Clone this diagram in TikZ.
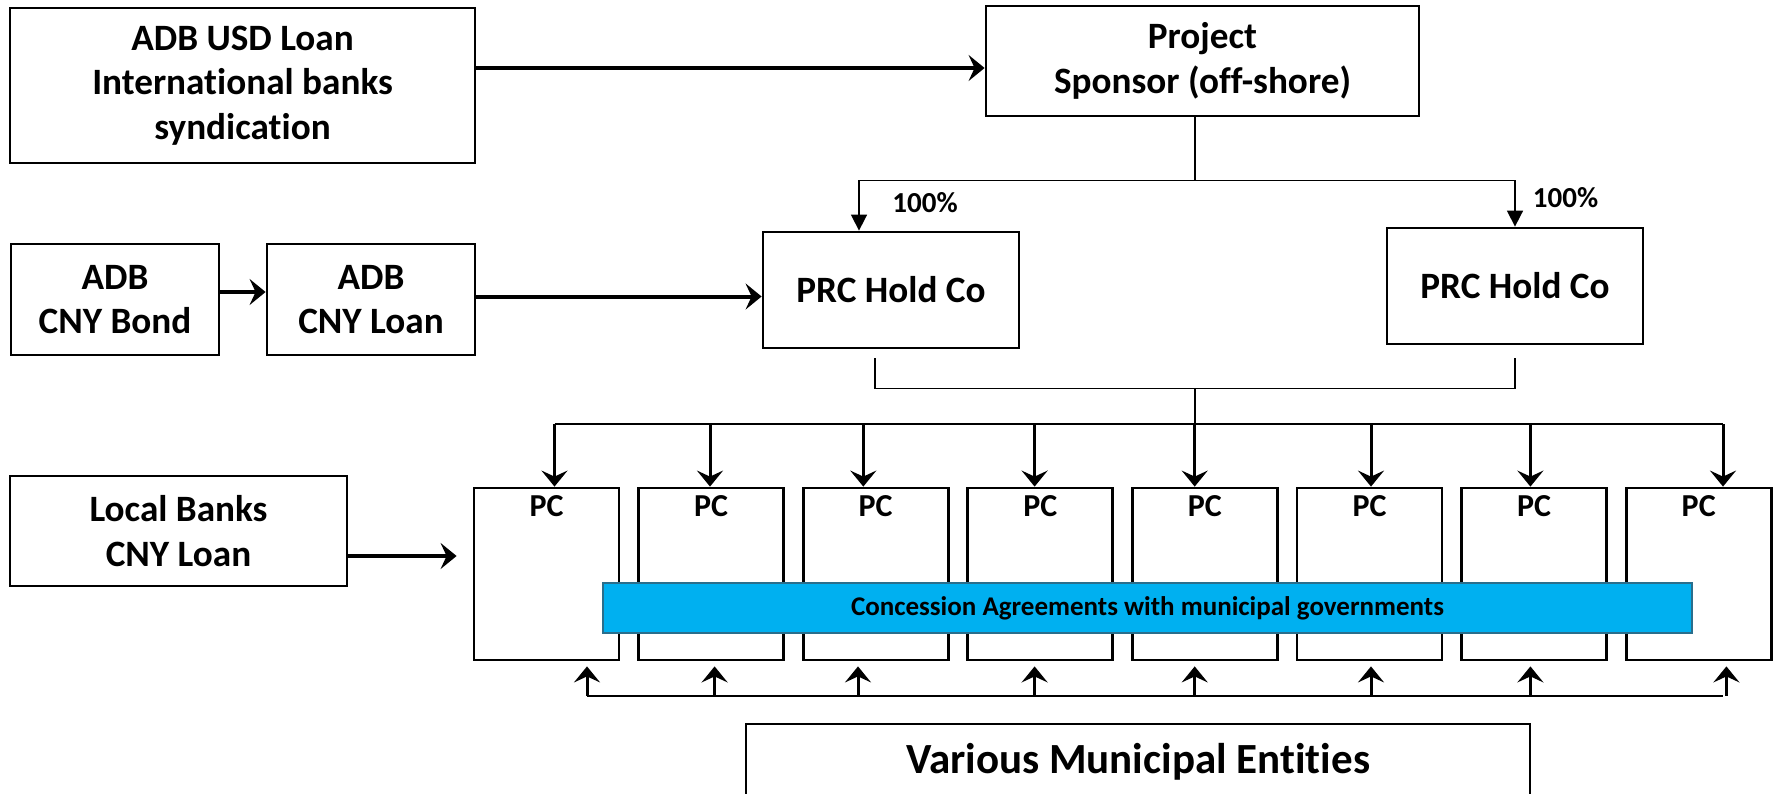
\documentclass[tikz,border=0pt]{standalone}
\usepackage{fontspec}
\setmainfont[Ligatures=NoCommon]{Carlito}
\usetikzlibrary{arrows.meta,positioning}

\definecolor{barblue}{HTML}{00B0F0}
\definecolor{baredge}{HTML}{2A6E8C}

\newcommand{\boxfont}{\fontsize{18.6}{22.3}\selectfont\bfseries}
\newcommand{\pcfont}{\fontsize{16}{18}\selectfont\bfseries}
\newcommand{\pctfont}{\fontsize{14.5}{17}\selectfont\bfseries}
\newcommand{\barfont}{\fontsize{13.5}{16}\selectfont\bfseries}
\newcommand{\munifont}{\fontsize{21.5}{26}\selectfont\bfseries}

\begin{document}
\begin{tikzpicture}[x=0.5pt,y=-0.5pt,
    main node/.style={rectangle,draw,line width=1.4pt,inner sep=0pt,align=center,font=\boxfont},
    pc node/.style={rectangle,draw,line width=1.4pt,inner sep=0pt,minimum width=72.5pt,minimum height=86pt},
    bar node/.style={rectangle,draw=baredge,line width=0.6pt,fill=barblue,inner sep=0pt,font=\barfont},
    big arrow/.style={line width=2pt,-{Stealth[length=8pt,width=13pt,inset=3pt]}},
    pc arrow/.style={line width=1.5pt,-{Stealth[length=8pt,width=13pt,inset=3pt]}},
    thin arrow/.style={line width=0.8pt,-{Triangle[length=8pt,width=8pt]}},
    thin line/.style={line width=0.8pt}]

    \path[use as bounding box,fill=white] (0,0) rectangle (1778,793);

    \node[main node, minimum width=232.5pt, minimum height=77.5pt] (USDLoan) at (242.5,85.5) {ADB USD Loan\\International banks\\syndication};
    \node[main node, minimum width=216.5pt, minimum height=55pt] (Sponsor) at (1202.5,61) {Project\\Sponsor (off-shore)};

    \node[main node, minimum width=128pt, minimum height=58pt] (PRC1) at (891,290) {PRC Hold Co};
    \node[main node, minimum width=128pt, minimum height=58pt] (PRC2) at (1515,286) {PRC Hold Co};

    \node[main node, minimum width=104pt, minimum height=55.5pt] (CNYBond) at (115,299.5) {ADB\\CNY Bond};
    \node[main node, minimum width=104pt, minimum height=55.5pt] (CNYLoan) at (371,299.5) {ADB\\CNY Loan};

    \node[main node, minimum width=168.5pt, minimum height=55pt] (LocalBanks) at (178.5,531) {Local Banks\\CNY Loan};

    \node[font=\pctfont] (pct1) at (925,203) {100\%};
    \node[font=\pctfont] (pct2) at (1565.5,198) {100\%};

    % project companies
    \foreach \i in {1,...,8}{
        \node[pc node] (pc\i) at ({546.5+164.6*(\i-1)},574) {};
        \node[font=\pcfont] (pclabel\i) at ([yshift=-10pt]pc\i.north) {PC};
    }

    \node[bar node, minimum width=544.5pt, minimum height=25pt] (Concession) at (1147.5,608) {Concession Agreements with municipal governments};

    \node[main node, minimum width=392pt, minimum height=38pt, font=\munifont] (Municipal) at (1138,762) {Various Municipal Entities};

    \draw [big arrow] (USDLoan.east |- 0,68) -- (Sponsor.west |- 0,68);
    \draw [big arrow] (CNYBond.east |- 0,292) -- (CNYLoan.west |- 0,292);
    \draw [big arrow] (CNYLoan.east |- 0,296.5) -- (PRC1.west |- 0,296.5);
    \draw [big arrow, shorten >=8pt] (LocalBanks.east |- 0,556) -- (pc1.west |- 0,556);

    \coordinate (fork1) at (1195,180.5);
    \draw [thin line] (Sponsor.south -| fork1) -- (fork1);
    \draw [thin arrow] (fork1) -| ([xshift=-16pt]PRC1.north);
    \draw [thin arrow] (fork1) -| (PRC2.north);

    \coordinate (fork2) at (1195,388.3);
    \draw [thin line] ([xshift=-8pt,yshift=-4.3pt]PRC1.south) |- (fork2);
    \draw [thin line] ([yshift=-6.3pt]PRC2.south) |- (fork2);
    \draw [thin line] (fork2) -- (1195,424);

    \draw [line width=1pt] (554.5,424) -- (1723,424);
    \draw [line width=1.2pt] (587,695.7) -- (1723,695.7);

    \foreach \i/\tx/\bx in {1/554.5/587, 2/710/714.6, 3/863.3/858, 4/1034.6/1034.6,
        5/1194.7/1194.7, 6/1371/1371, 7/1530.4/1530.4, 8/1723/1726.4}{
        \draw [pc arrow] (\tx,424) -- (\tx,0 |- pc\i.north);
        \draw [pc arrow, shorten >=2.5pt] (\bx,695.7) -- (\bx,0 |- pc\i.south);
    }
\end{tikzpicture}
\end{document}
